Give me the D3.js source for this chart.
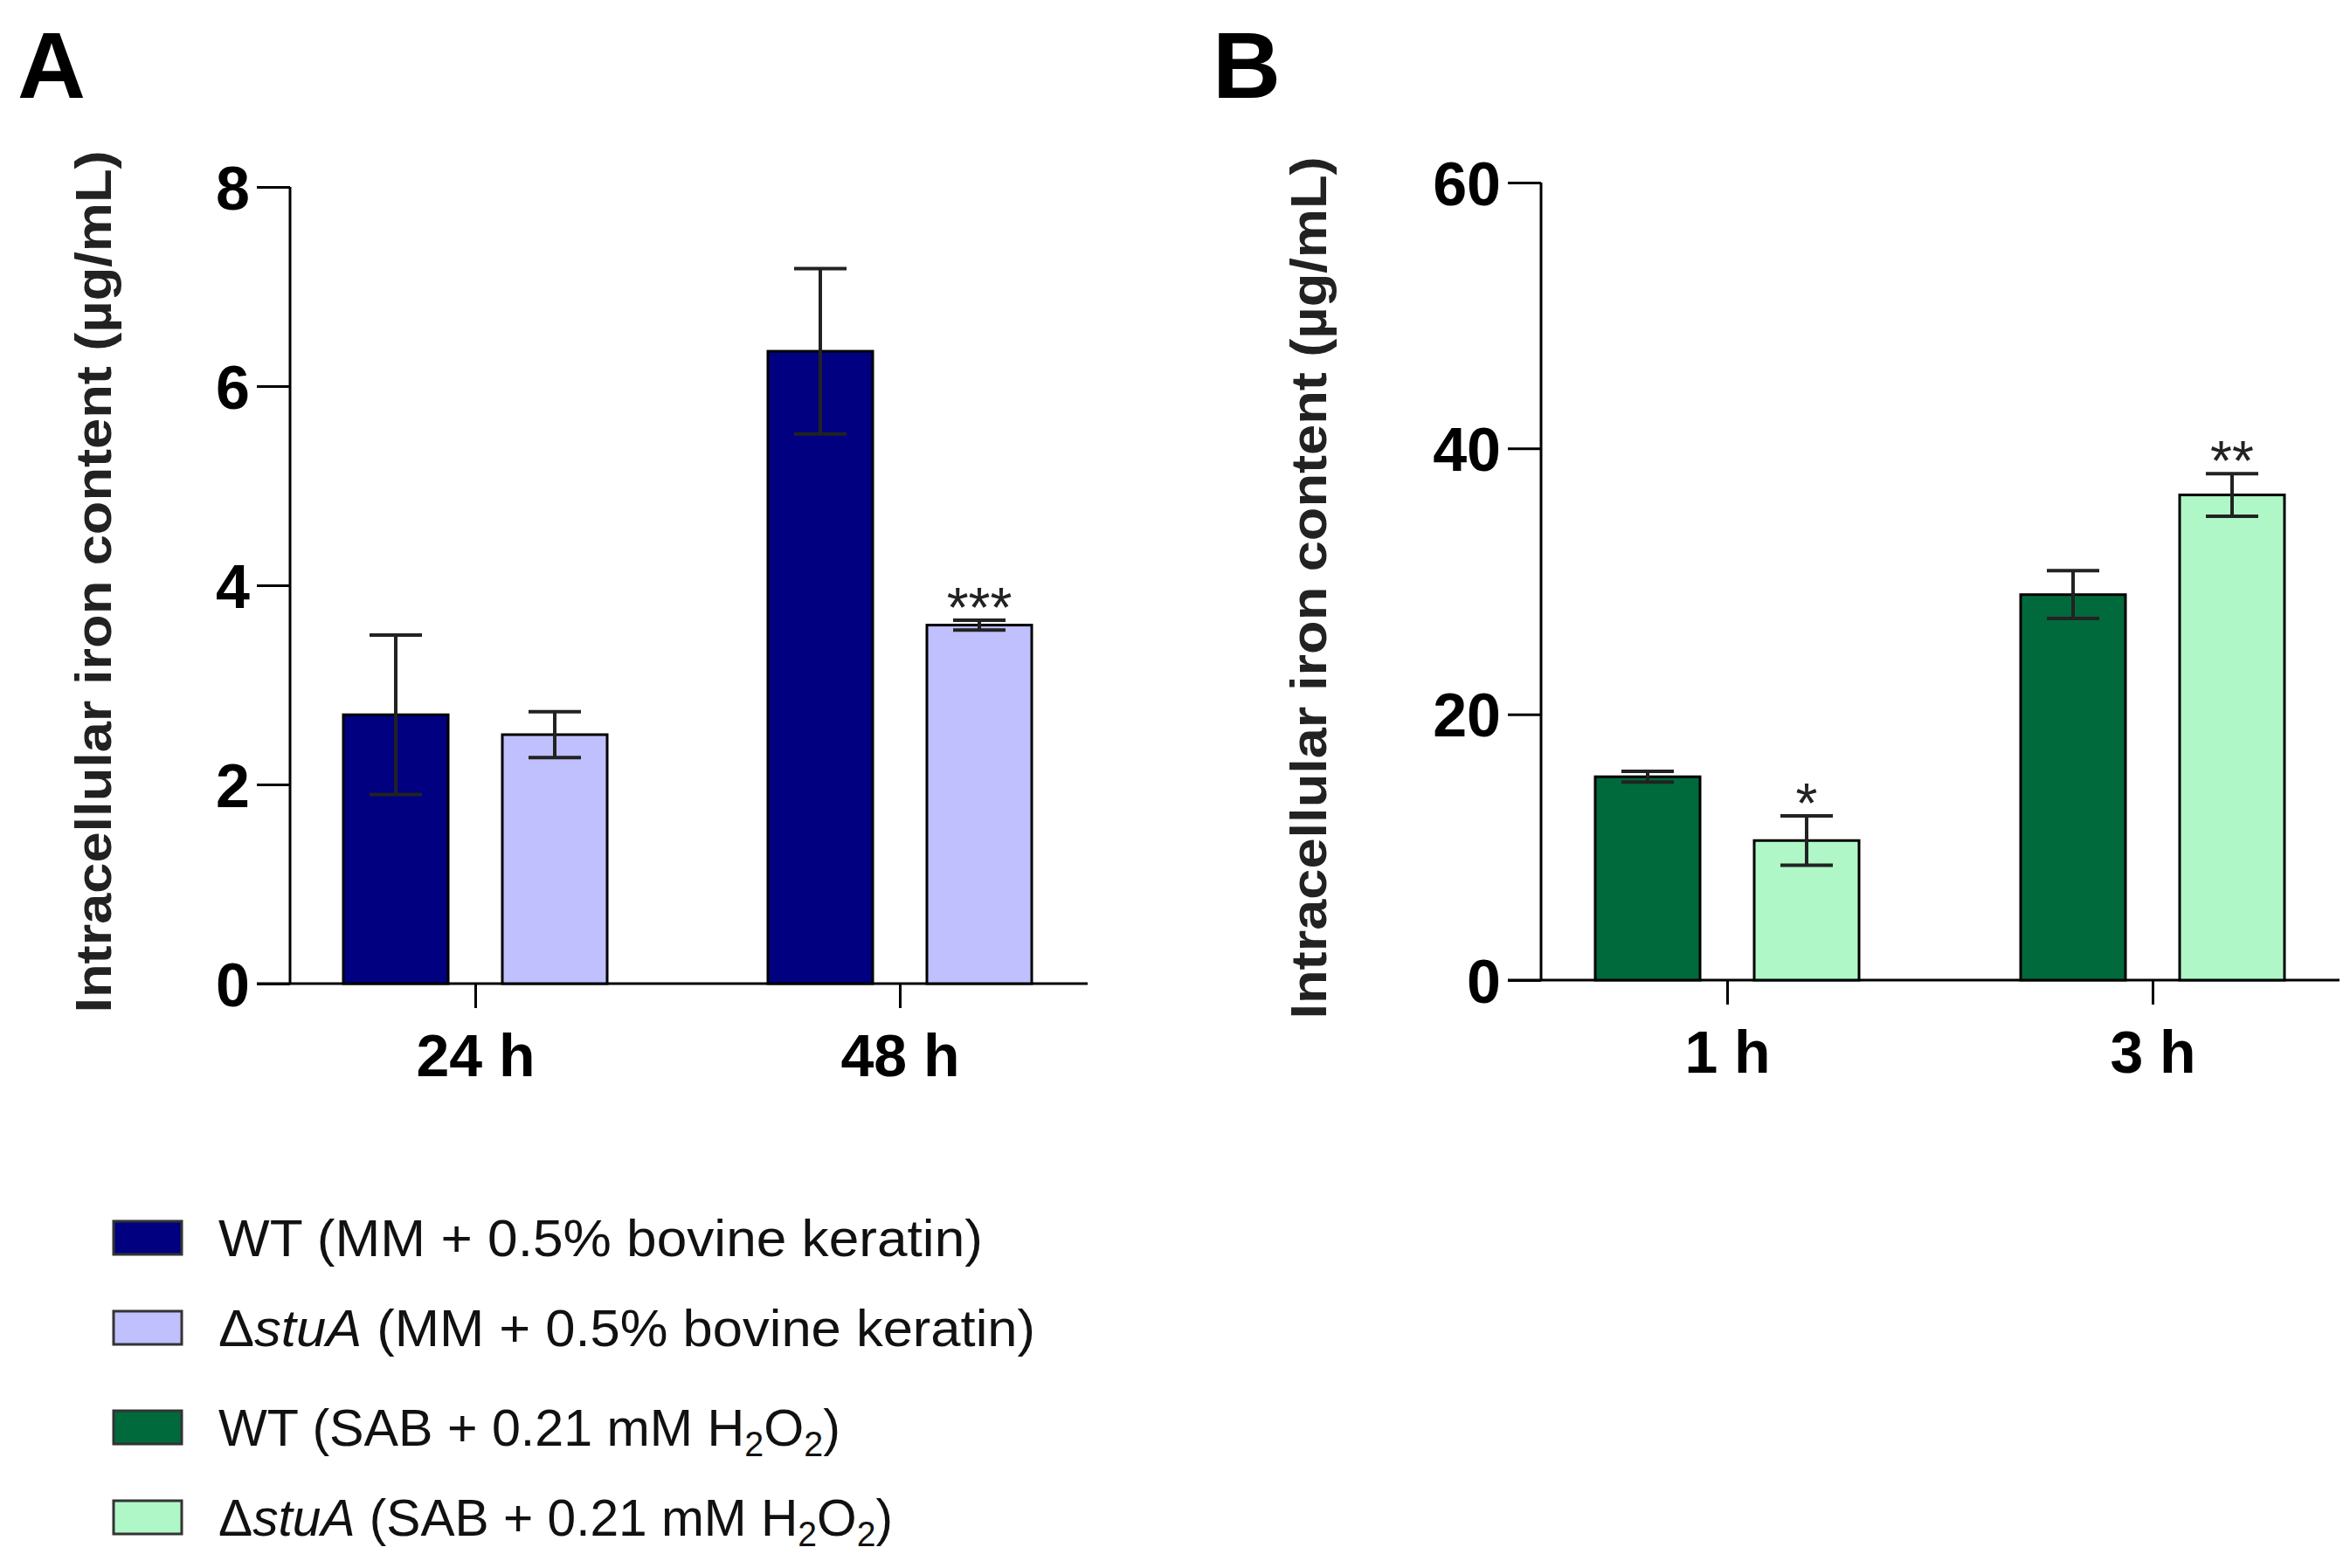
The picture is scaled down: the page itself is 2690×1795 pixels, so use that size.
<!DOCTYPE html>
<html><head><meta charset="utf-8">
<script src="https://cdn.jsdelivr.net/npm/d3@7"></script>
<style>body{margin:0;background:#fff}</style></head>
<body><svg id="c" width="2690" height="1795"></svg>
<script>
const catsA = ["24 h","48 h"];
const wtA = [2.7, 6.35], wtAerr = [0.8, 0.83];
const muA = [2.5, 3.6], muAerr = [0.23, 0.05];
const sigA = ["", "***"];
const ticksA = [0,2,4,6,8];
const catsB = ["1 h","3 h"];
const wtB = [15.3, 29.0], wtBerr = [0.4, 1.8];
const muB = [10.5, 36.5], muBerr = [1.85, 1.6];
const sigB = ["*", "**"];
const ticksB = [0,20,40,60];
const colors = {wtA:"#000080", muA:"#c0c0ff", wtB:"#006a3c", muB:"#b0f7c8"};
const legend = [
 {c:colors.wtA, pre:"WT", it:"", rest:" (MM + 0.5% bovine keratin)", h2o2:false, w:875},
 {c:colors.muA, pre:"Δ", it:"stuA", rest:" (MM + 0.5% bovine keratin)", h2o2:false, w:935},
 {c:colors.wtB, pre:"WT", it:"", rest:" (SAB + 0.21 mM H", h2o2:true, w:712},
 {c:colors.muB, pre:"Δ", it:"stuA", rest:" (SAB + 0.21 mM H", h2o2:true, w:772}
];
const svg = d3.select("#c");
const F = "Liberation Sans, Arial, sans-serif";

function panel(o){
  const g = svg.append("g");
  const y = d3.scaleLinear().domain([0,o.max]).range([o.y0,o.y1]);
  const xc = d3.scalePoint().domain(o.cats).range([o.c0,o.c1]);
  const ya = g.append("g").attr("transform",`translate(${o.ax},0)`).call(d3.axisLeft(y).tickValues(o.ticks).tickSize(38).tickPadding(8));
  ya.select(".domain").attr("d",`M0,${o.y0}V${o.y1}`);
  ya.selectAll("line,path").attr("stroke","#000").attr("stroke-width",3);
  ya.selectAll("text").attr("font-family",F).attr("font-weight","bold").attr("font-size",70).attr("dy","0.36em");
  const xa = g.append("g").attr("transform",`translate(0,${o.y0})`).call(d3.axisBottom(xc).tickSize(28).tickPadding(30));
  xa.select(".domain").attr("d",`M${o.ax-38},0H${o.xend}`);
  xa.selectAll("line,path").attr("stroke","#000").attr("stroke-width",3);
  xa.selectAll("text").attr("font-family",F).attr("font-weight","bold").attr("font-size",68);
  const series = [[o.wt,o.wterr,o.cw,-o.off,""],[o.mu,o.muerr,o.cm,o.off,"sig"]];
  series.forEach(([v,e,col,off,s])=>{
    o.cats.forEach((c,i)=>{
      const cx = xc(c)+off;
      g.append("rect").attr("x",cx-o.bw/2).attr("width",o.bw).attr("y",y(v[i])).attr("height",y(0)-y(v[i]))
        .attr("fill",col).attr("stroke","#000").attr("stroke-width",3);
      const ec = "#222";
      g.append("line").attr("x1",cx).attr("x2",cx).attr("y1",y(v[i]-e[i])).attr("y2",y(v[i]+e[i])).attr("stroke",ec).attr("stroke-width",4);
      [v[i]-e[i],v[i]+e[i]].forEach(t=>g.append("line").attr("x1",cx-30).attr("x2",cx+30).attr("y1",y(t)).attr("y2",y(t)).attr("stroke",ec).attr("stroke-width",4));
      if(s && o.sig[i]) g.append("text").attr("x",cx).attr("y",y(v[i]+e[i])+8).attr("text-anchor","middle")
        .attr("font-family",F).attr("font-size",64).attr("fill","#222").text(o.sig[i]);
    });
  });
  g.append("text").attr("transform",`translate(${o.lx},${o.lc}) rotate(-90)`).attr("text-anchor","middle")
    .attr("font-family",F).attr("font-weight","bold").attr("font-size",58).attr("fill","#222")
    .attr("textLength",987).attr("lengthAdjust","spacingAndGlyphs")
    .attr("dominant-baseline","middle").text("Intracellular iron content (µg/mL)");
  g.append("text").attr("x",o.px).attr("y",112).attr("font-family",F).attr("font-weight","bold").attr("font-size",108).text(o.letter);
}
panel({max:8,y0:1126,y1:214,ax:332,xend:1245,c0:544,c1:1030,cats:catsA,ticks:ticksA,wt:wtA,wterr:wtAerr,mu:muA,muerr:muAerr,sig:sigA,cw:colors.wtA,cm:colors.muA,off:91,bw:120,lx:112,lc:666,px:20,letter:"A"});
panel({max:60,y0:1122,y1:209,ax:1764,xend:2678,c0:1977,c1:2464,cats:catsB,ticks:ticksB,wt:wtB,wterr:wtBerr,mu:muB,muerr:muBerr,sig:sigB,cw:colors.wtB,cm:colors.muB,off:91,bw:120,lx:1503,lc:673,px:1388,letter:"B"});

const ly = [1417,1520,1634,1737];
legend.forEach((d,i)=>{
  svg.append("rect").attr("x",130).attr("y",ly[i]-19).attr("width",78).attr("height",38).attr("fill",d.c).attr("stroke","#333").attr("stroke-width",3);
  const t = svg.append("text").attr("x",250).attr("y",ly[i]+21).attr("font-family",F).attr("font-size",60).attr("fill","#111")
    .attr("textLength",d.w).attr("lengthAdjust","spacingAndGlyphs");
  t.append("tspan").text(d.pre);
  if(d.it) t.append("tspan").attr("font-style","italic").text(d.it);
  t.append("tspan").text(d.rest);
  if(d.h2o2){
    t.append("tspan").attr("font-size",40).attr("dy",12).text("2");
    t.append("tspan").attr("dy",-12).text("O");
    t.append("tspan").attr("font-size",40).attr("dy",12).text("2");
    t.append("tspan").attr("dy",-12).text(")");
  }
});
</script></body></html>
